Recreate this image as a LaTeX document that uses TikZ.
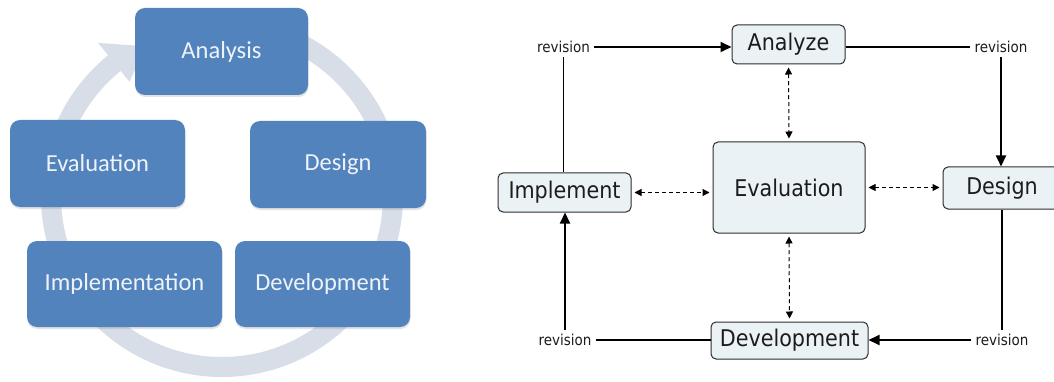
\documentclass[tikz,border=0pt]{standalone}
\usepackage{fontspec}
\setmainfont{Carlito}
\newfontfamily\cycfont{Carlito}
\newfontfamily\mapfont{DejaVu Sans Condensed}
\usetikzlibrary{arrows.meta,shadows}

\definecolor{cycblue}{RGB}{82,131,189}
\definecolor{cyctext}{RGB}{238,243,249}
\definecolor{ringcol}{RGB}{215,222,232}
\definecolor{mapfill}{RGB}{235,242,246}
\definecolor{mapedge}{RGB}{45,45,45}
\definecolor{maptext}{RGB}{28,28,28}

\tikzset{
  cyc/.style={draw=none, fill=cycblue, rounded corners=10pt, inner sep=0pt,
    text=cyctext, font=\cycfont\fontsize{24.5}{28}\selectfont,
    drop shadow={opacity=0.22, shadow xshift=0.5pt, shadow yshift=-2pt}},
  mapbox/.style={draw=mapedge, line width=1pt, fill=mapfill, rounded corners=5pt,
    inner sep=0pt, text=maptext, font=\mapfont\fontsize{23}{27}\selectfont},
  revlabel/.style={inner sep=4pt, text=maptext, font=\mapfont\fontsize{15}{18}\selectfont},
  flow/.style={line width=1.8pt, draw=black},
  flowarrow/.style={flow, -{Triangle[length=11pt,width=10pt]}},
  link/.style={draw=black, line width=1pt, dash pattern=on 4pt off 3pt,
    {Triangle[length=7pt,width=7pt]}-{Triangle[length=7pt,width=7pt]},
    shorten <=3pt, shorten >=3pt}
}

\begin{document}
\begin{tikzpicture}[x=1pt, y=-1pt]
\path[use as bounding box, clip] (0,0) rectangle (1054,382);
\fill[white] (0,0) rectangle (1054,382);

% ---- cycle: ring with arrowhead behind the five phases ----
\coordinate (C) at (222,196);
\draw[ringcol, line width=20pt] (C) ++(270:171) arc[start angle=270, end angle=591, radius=171];
\fill[ringcol, shift={(C)}] (231:147) -- (243:168) -- (231:197) -- cycle;

\node[cyc, minimum width=173pt, minimum height=87pt] (analysis) at (221.5,51.5) {Analysis};
\node[cyc, minimum width=175pt, minimum height=87pt] (evalL) at (97.5,163.5) {Evaluation};
\node[cyc, minimum width=176pt, minimum height=87pt] (designL) at (338,164.5) {Design};
\node[cyc, minimum width=195pt, minimum height=86pt] (implementation) at (124.5,284) {Implementation};
\node[cyc, minimum width=175pt, minimum height=86pt] (developL) at (322.5,284) {Development};

% ---- concept map with revision loop ----
\node[mapbox, minimum width=113pt, minimum height=39pt] (analyze) at (788.5,44.5) {Analyze};
\node[mapbox, minimum width=133pt, minimum height=39pt] (implement) at (564.5,192.5) {Implement};
\node[mapbox, minimum width=152pt, minimum height=91pt] (evaluation) at (789,187.5) {Evaluation};
\node[mapbox, minimum width=118pt, minimum height=42pt] (design) at (1002,188) {Design};
\node[mapbox, minimum width=157pt, minimum height=37pt] (development) at (789.5,340.5) {Development};

\node[revlabel] (revTL) at (563.5,47) {revision};
\node[revlabel] (revTR) at (1001,47) {revision};
\node[revlabel] (revBL) at (565,340) {revision};
\node[revlabel] (revBR) at (1002,340) {revision};

\draw[flowarrow] (revTL.east) -- (revTL.east -| analyze.west);
\draw[flow] (analyze.east |- revTR.west) -- (revTR.west);
\draw[flowarrow] (revTR.south) -- (revTR.south |- design.north);
\draw[flow] (revBR.north |- design.south) -- (revBR.north);
\draw[flowarrow] (revBR.west) -- (revBR.west -| development.east);
\draw[flow] (development.west |- revBL.east) -- (revBL.east);
\draw[flowarrow] (revBL.north) -- (revBL.north |- implement.south);
\draw[flow] (revTL.south) -- (revTL.south |- implement.north);

\draw[link] (analyze.south) -- (evaluation.north);
\draw[link] (evaluation.south) -- (development.north);
\draw[link] (implement.east) -- (implement.east -| evaluation.west);
\draw[link] (evaluation.east) -- (evaluation.east -| design.west);
\end{tikzpicture}
\end{document}
